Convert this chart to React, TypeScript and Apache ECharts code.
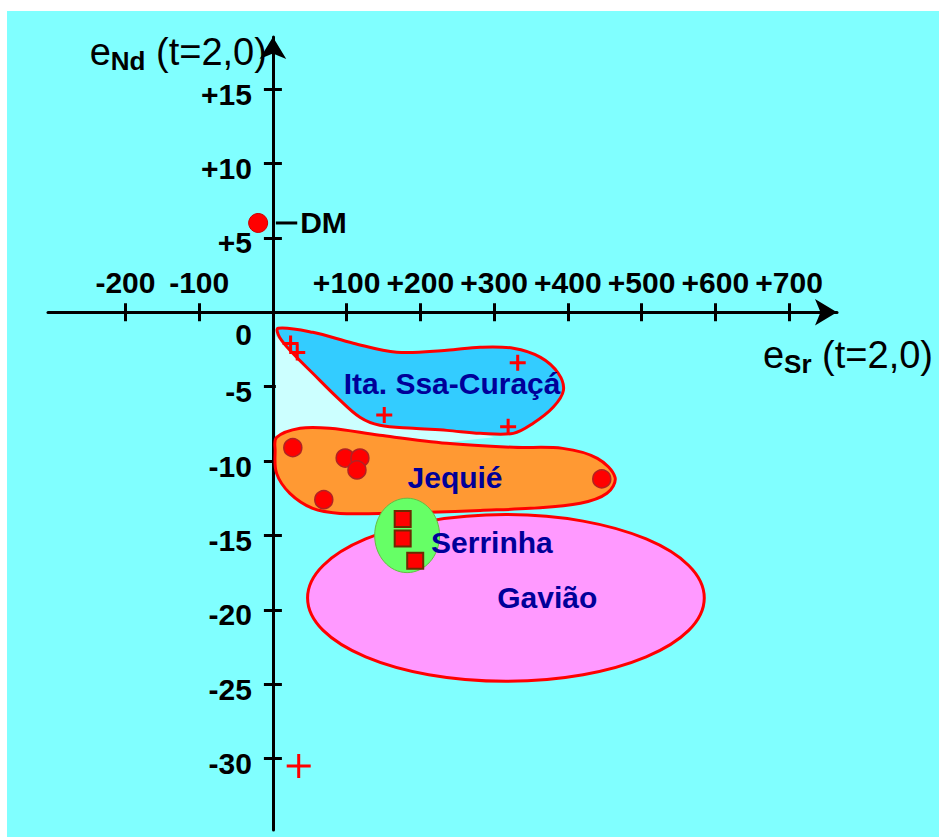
import React, { useEffect, useRef } from 'react';
import * as echarts from 'echarts';

// ---- tick values ----
const xTickValues = [-200, -100, 100, 200, 300, 400, 500, 600, 700];
const yTickValues = [-30, -25, -20, -15, -10, -5, 5, 10, 15];
const yLabelValues = [-30, -25, -20, -15, -10, -5, 0, 5, 10, 15];

// ---- sample points (eSr, eNd) ----
const dmPoint = [[-20, 6.0]];
const dmLeader = [[4, 6.0], [33, 6.0]];
const itaPoints = [[24, -2.1], [33, -2.7], [332, -3.4], [151, -6.9], [319, -7.7]];
const outlierCross = [[35, -30.5]];
const jequiePoints = [[27, -9.1], [98, -9.8], [118, -9.8], [114, -10.6], [69, -12.6], [446, -11.2]];
const serrinhaPoints = [[176, -13.9], [176, -15.2], [193, -16.7]];

// ---- field outlines (data units) ----
const itaOutline = [
  [7, -1.08], [54, -1.35], [109, -2.08], [168, -2.69], [236, -2.56], [281, -2.35], [326, -2.42],
  [363, -3.03], [387, -4.1], [394, -5.25], [380, -6.39], [353, -7.46], [326, -8.14], [281, -8.14],
  [236, -7.94], [190, -7.8], [145, -7.6], [118, -7.06], [87, -5.72], [54, -4.1], [27, -2.76], [9, -1.68],
];
const gapOutline = [
  [4, -1.6], [27, -2.76], [54, -4.1], [87, -5.72], [118, -7.06], [145, -7.6], [190, -7.8], [236, -7.94],
  [281, -8.14], [300, -8.4], [236, -8.74], [145, -8.2], [77, -7.73], [37, -7.73], [4, -8.34],
];
const jequieOutline = [
  [5, -8.41], [37, -7.8], [77, -7.8], [145, -8.27], [236, -8.81], [326, -9.08], [393, -9.15], [440, -9.82],
  [464, -11.1], [453, -12.17], [417, -12.84], [349, -13.18], [281, -13.32], [213, -13.45], [145, -13.52],
  [91, -13.52], [54, -13.18], [23, -12.17], [5, -10.83], [3, -9.28],
];
// [centerX, centerY, radiusX, radiusY]
const gaviaoEllipse = [316, -19.2, 269, 5.6];
const serrinhaEllipse = [182, -15.0, 44, 2.5];

// ---- field names ----
const regionNames = ['Ita. Ssa-Curaçá', 'Jequié', 'Serrinha', 'Gavião'];
const regionLabelPos = [[243, -4.8], [247, -11.1], [297, -15.5], [372, -19.2]];

const FONT = "'Liberation Sans', Arial, sans-serif";
const PLUS_SMALL = 'path://M0,7.3H7.3V0h3.4v7.3H18v3.4H10.7V18H7.3V10.7H0Z';
const PLUS_BIG = 'path://M0,10.5H10.5V0h3v10.5H24v3H13.5V24h-3V13.5H0Z';

const X_MIN = -305, X_MAX = 765, Y_MIN = -34.8, Y_MAX = 18.5;
const GRID = { left: 48, top: 37, width: 789, height: 793 };
// distance from grid edge to the zero lines (so the axes cross at the origin)
const X_AXIS_OFFSET = -(GRID.height * Y_MAX) / (Y_MAX - Y_MIN);
const Y_AXIS_OFFSET = -(GRID.width * -X_MIN) / (X_MAX - X_MIN);

function polygonSeries(name: string, pts: number[][], fill: string, stroke: string | null, lw: number, smooth: number) {
  return {
    type: 'custom',
    name,
    coordinateSystem: 'cartesian2d',
    silent: true,
    data: [pts[0]],
    renderItem: (_p: any, api: any) => ({
      type: 'polygon',
      shape: { points: pts.map((p) => api.coord(p)), smooth },
      style: { fill, stroke: stroke || 'none', lineWidth: lw },
    }),
  };
}

function ellipseSeries(name: string, e: number[], fill: string, stroke: string, lw: number) {
  return {
    type: 'custom',
    name,
    coordinateSystem: 'cartesian2d',
    silent: true,
    data: [[e[0], e[1]]],
    renderItem: (_p: any, api: any) => {
      const c = api.coord([e[0], e[1]]);
      const s = api.size([e[2], e[3]]);
      return {
        type: 'ellipse',
        shape: { cx: c[0], cy: c[1], rx: s[0], ry: s[1] },
        style: { fill, stroke, lineWidth: lw },
      };
    },
  };
}

const nameRich = {
  e: { fontSize: 38, lineHeight: 44, fontFamily: FONT, color: '#000' },
  s: { fontSize: 26, fontWeight: 'bold', lineHeight: 14, verticalAlign: 'bottom', fontFamily: FONT, color: '#000' },
  t: { fontSize: 38, lineHeight: 44, fontFamily: FONT, color: '#000' },
};

export default function App() {
  const ref = useRef<HTMLDivElement>(null);
  useEffect(() => {
    if (!ref.current) return;
    const chart = echarts.init(ref.current, null, { renderer: 'svg' });
    const axisLineStyle = { color: '#000', width: 3 };
    const tickStyle = { color: '#000', width: 3 };
    const option: any = {
      animation: false,
      backgroundColor: '#ffffff',
      graphic: [
        { type: 'rect', left: 7, top: 11, z: -100, silent: true, shape: { width: 932, height: 826 }, style: { fill: '#80ffff' } },
      ],
      grid: { ...GRID, containLabel: false, outerBoundsMode: 'none' },
      xAxis: [
        {
          type: 'value', min: X_MIN, max: X_MAX, position: 'top', offset: X_AXIS_OFFSET,
          axisLine: { show: true, onZero: false, symbol: ['none', 'arrow'], symbolSize: [20, 22], lineStyle: axisLineStyle },
          axisTick: { show: true, inside: false, length: 9, lineStyle: tickStyle, customValues: xTickValues },
          axisLabel: {
            show: true, customValues: xTickValues, margin: 30, verticalAlign: 'middle',
            fontSize: 30, fontWeight: 'bold', fontFamily: FONT, color: '#000',
            formatter: (v: number) => (v > 0 ? '+' + v : String(v)),
          },
          splitLine: { show: false },
          name: '{e|e}{s|Sr}{t| (t=2,0)}', nameLocation: 'end', nameGap: 96, nameMoveOverlap: false,
          nameTextStyle: { align: 'right', verticalAlign: 'middle', padding: [86, 0, 0, 0], rich: nameRich },
        },
        {
          type: 'value', min: X_MIN, max: X_MAX, position: 'top', offset: X_AXIS_OFFSET,
          axisLine: { show: false, onZero: false },
          axisTick: { show: true, inside: true, length: 9, lineStyle: tickStyle, customValues: xTickValues },
          axisLabel: { show: false },
          splitLine: { show: false },
        },
      ],
      yAxis: [
        {
          type: 'value', min: Y_MIN, max: Y_MAX, position: 'left', offset: Y_AXIS_OFFSET,
          axisLine: { show: true, onZero: false, symbol: ['none', 'arrow'], symbolSize: [20, 22], lineStyle: axisLineStyle },
          axisTick: { show: true, inside: false, length: 9, lineStyle: tickStyle, customValues: yTickValues },
          axisLabel: {
            show: true, customValues: yLabelValues, margin: 21, padding: [10, 0, 0, 0],
            fontSize: 30, fontWeight: 'bold', fontFamily: FONT, color: '#000',
            formatter: (v: number) => (v === 0 ? '{z|0}' : v > 0 ? '+' + v : String(v)),
            rich: { z: { fontSize: 30, fontWeight: 'bold', fontFamily: FONT, color: '#000', padding: [34, 0, 0, 0] } },
          },
          splitLine: { show: false },
          name: '{e|e}{s|Nd}{t| (t=2,0)}', nameLocation: 'end', nameGap: -15, nameMoveOverlap: false,
          nameTextStyle: { align: 'right', verticalAlign: 'middle', padding: [0, 6, 0, 0], rich: nameRich },
        },
        {
          type: 'value', min: Y_MIN, max: Y_MAX, position: 'left', offset: Y_AXIS_OFFSET,
          axisLine: { show: false, onZero: false },
          axisTick: { show: true, inside: true, length: 9, lineStyle: tickStyle, customValues: yTickValues },
          axisLabel: { show: false },
          splitLine: { show: false },
        },
      ],
      series: [
        polygonSeries('gap', gapOutline, '#ccffff', null, 0, 0),
        polygonSeries('Ita. Ssa-Curaçá field', itaOutline, '#33ccff', '#ff0000', 3, 0.35),
        ellipseSeries('Gavião field', gaviaoEllipse, '#ff99ff', '#ff0000', 3),
        polygonSeries('Jequié field', jequieOutline, '#ff9933', '#ff0000', 3, 0.35),
        ellipseSeries('Serrinha field', serrinhaEllipse, '#66ff66', '#66bb44', 1),
        {
          type: 'custom', name: 'DM leader', coordinateSystem: 'cartesian2d', silent: true,
          data: [dmLeader[0]],
          renderItem: (_p: any, api: any) => {
            const a = api.coord(dmLeader[0]);
            const b = api.coord(dmLeader[1]);
            return { type: 'line', shape: { x1: a[0], y1: a[1], x2: b[0], y2: b[1] }, style: { stroke: '#000', lineWidth: 3 } };
          },
        },
        {
          type: 'scatter', name: 'DM', data: dmPoint, symbol: 'circle', symbolSize: 19,
          itemStyle: { color: '#ff0000', borderColor: '#cc0000', borderWidth: 1, opacity: 1 },
          label: { show: true, position: 'right', distance: 32, formatter: 'DM', fontSize: 30, fontWeight: 'bold', fontFamily: FONT, color: '#000' },
          silent: true,
        },
        {
          type: 'scatter', name: 'Ita. Ssa-Curaçá', data: itaPoints, symbol: PLUS_SMALL, symbolSize: 16,
          itemStyle: { color: '#ff0000', opacity: 1 }, silent: true,
        },
        {
          type: 'scatter', name: 'outlier', data: outlierCross, symbol: PLUS_BIG, symbolSize: 24,
          itemStyle: { color: '#ff0000', opacity: 1 }, silent: true,
        },
        {
          type: 'scatter', name: 'Jequié', data: jequiePoints, symbol: 'circle', symbolSize: 18,
          itemStyle: { color: '#ff0000', borderColor: '#b22222', borderWidth: 1.5, opacity: 1 }, silent: true,
        },
        {
          type: 'scatter', name: 'Serrinha', data: serrinhaPoints, symbol: 'rect', symbolSize: 16,
          itemStyle: { color: '#ff0000', borderColor: '#6b2a00', borderWidth: 2, opacity: 1 }, silent: true,
        },
        {
          type: 'custom', name: 'field names', coordinateSystem: 'cartesian2d', silent: true,
          data: regionLabelPos,
          renderItem: (params: any, api: any) => {
            const c = api.coord([api.value(0), api.value(1)]);
            return {
              type: 'text', x: c[0], y: c[1],
              style: {
                text: regionNames[params.dataIndex], fill: '#000099',
                font: `bold 30px ${FONT}`, align: 'center', verticalAlign: 'middle',
              },
            };
          },
        },
      ],
    };
    chart.setOption(option);
    return () => chart.dispose();
  }, []);
  return <div ref={ref} style={{ position: 'fixed', left: 0, top: 0, width: 939, height: 837 }} />;
}
